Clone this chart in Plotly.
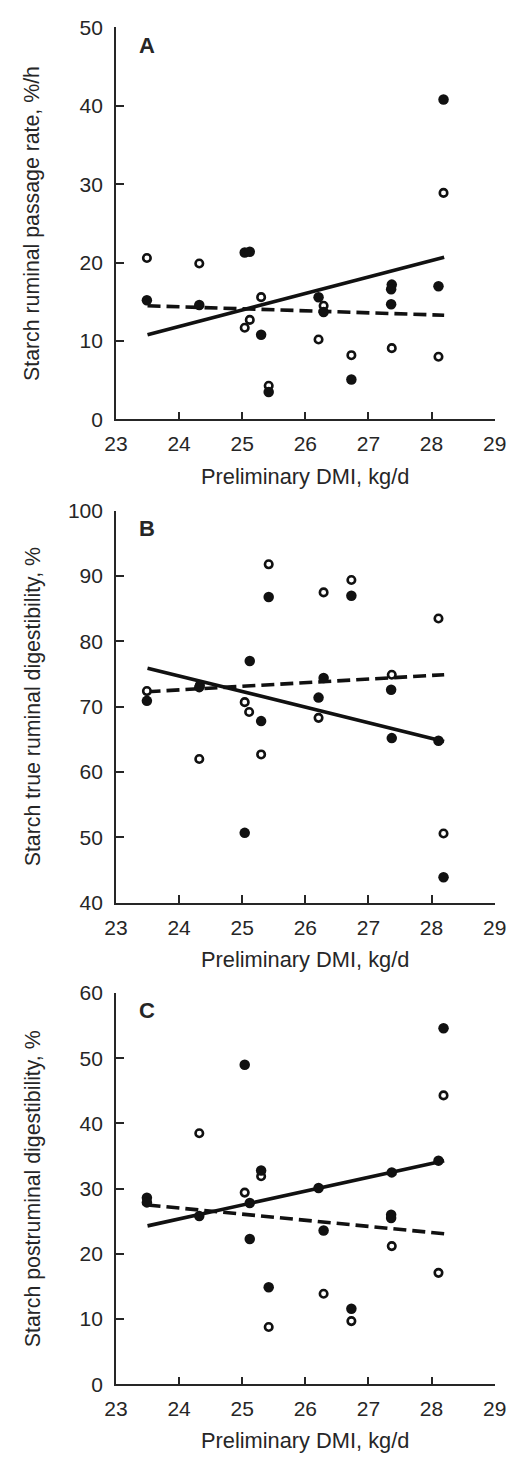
import plotly.graph_objects as go

# Preliminary dry matter intake (kg/d) and responses, per treatment
# Panel A: starch ruminal passage rate, %/h
a_open_x = [23.49, 24.32, 25.04, 25.12, 25.30, 25.42, 26.21, 26.29, 26.73, 27.37, 28.11, 28.19]
a_open_y = [20.6, 19.9, 11.7, 12.7, 15.6, 4.3, 10.2, 14.5, 8.2, 9.1, 8.0, 28.9]
a_fill_x = [23.49, 24.32, 25.04, 25.12, 25.30, 25.42, 26.21, 26.29, 26.73, 27.37, 27.36, 27.36, 28.11, 28.19]
a_fill_y = [15.2, 14.6, 21.3, 21.4, 10.8, 3.5, 15.6, 13.7, 5.1, 17.2, 16.6, 14.7, 17.0, 40.8]

# Panel B: starch true ruminal digestibility, %
b_open_x = [23.49, 24.33, 24.32, 25.04, 25.11, 25.30, 25.42, 26.21, 26.29, 26.73, 27.37, 28.11, 28.19]
b_open_y = [72.4, 73.3, 62.0, 70.7, 69.2, 62.7, 91.8, 68.3, 87.5, 89.4, 74.9, 83.5, 50.6]
b_fill_x = [23.49, 24.32, 25.04, 25.12, 25.30, 25.42, 26.21, 26.29, 26.73, 27.36, 27.37, 28.11, 28.19]
b_fill_y = [70.9, 73.0, 50.7, 77.0, 67.8, 86.8, 71.4, 74.4, 87.0, 72.6, 65.2, 64.8, 43.9]

# Panel C: starch postruminal digestibility, %
c_open_x = [24.32, 25.04, 25.30, 25.42, 26.29, 26.73, 27.37, 28.11, 28.19]
c_open_y = [38.5, 29.4, 31.9, 8.8, 13.9, 9.7, 21.2, 17.1, 44.3]
c_fill_x = [23.49, 23.49, 24.32, 25.04, 25.12, 25.12, 25.30, 25.42, 26.21, 26.29, 26.73, 27.37, 27.36, 27.36, 28.11, 28.19]
c_fill_y = [28.6, 27.9, 25.8, 49.0, 27.8, 22.3, 32.8, 14.9, 30.1, 23.6, 11.6, 32.5, 26.0, 25.5, 34.3, 54.6]

# Regression lines (solid = filled symbols, dashed = open symbols)
fit_x = [23.5, 28.2]
a_fit_fill = [10.8, 20.7]
a_fit_open = [14.5, 13.3]
b_fit_fill = [75.9, 64.7]
b_fit_open = [72.3, 74.9]
c_fit_fill = [24.3, 34.3]
c_fit_open = [27.5, 23.1]

x_title = "Preliminary DMI, kg/d"
y_titles = ["Starch ruminal passage rate, %/h",
            "Starch true ruminal digestibility, %",
            "Starch postruminal digestibility, %"]
panel_letters = ["A", "B", "C"]
y_ranges = [[0, 50], [40, 100], [0, 60]]
x_ticks = [23, 24, 25, 26, 27, 28, 29]

W, H = 520, 1462
INK = "#262626"
FONT = "Liberation Sans, Arial, sans-serif"

# plot-area pixel boxes (left, right, top, bottom)
left_px, right_px = 109, 506
panel_px = [(15.7, 414.0), (506.7, 905.0), (996.7, 1394.3)]


def px_x(p):
    return p / W


def px_y(p):
    return 1 - p / H


fig = go.Figure()

panels = [
    (a_open_x, a_open_y, a_fill_x, a_fill_y, a_fit_fill, a_fit_open),
    (b_open_x, b_open_y, b_fill_x, b_fill_y, b_fit_fill, b_fit_open),
    (c_open_x, c_open_y, c_fill_x, c_fill_y, c_fit_fill, c_fit_open),
]

annotations = []
for i, (ox, oy, fx, fy, fit_f, fit_o) in enumerate(panels):
    n = "" if i == 0 else str(i + 1)
    xa, ya = "x" + n, "y" + n
    fig.add_trace(go.Scatter(x=fit_x, y=fit_f, mode="lines", xaxis=xa, yaxis=ya,
                             line=dict(color="#111", width=3.6), showlegend=False))
    fig.add_trace(go.Scatter(x=fit_x, y=fit_o, mode="lines", xaxis=xa, yaxis=ya,
                             line=dict(color="#111", width=3.6, dash="13px,6px"),
                             showlegend=False))
    fig.add_trace(go.Scatter(x=ox, y=oy, mode="markers", xaxis=xa, yaxis=ya,
                             marker=dict(symbol="circle", size=7.5, color="white",
                                         line=dict(color="#111", width=2.6)),
                             showlegend=False))
    fig.add_trace(go.Scatter(x=fx, y=fy, mode="markers", xaxis=xa, yaxis=ya,
                             marker=dict(symbol="circle", size=10.5, color="#111",
                                         line=dict(width=0)),
                             showlegend=False))

    top, bot = panel_px[i]
    axis_common = dict(showline=True, linecolor=INK, linewidth=1.6,
                       ticks="inside", ticklen=8, tickwidth=1.6, tickcolor=INK,
                       showgrid=False, zeroline=False,
                       tickfont=dict(family=FONT, size=21, color=INK))
    fig.update_layout(**{
        "xaxis" + n: dict(domain=[px_x(left_px), px_x(right_px)], range=[23, 29],
                          tickvals=x_ticks, anchor=ya, ticklabelstandoff=5,
                          **axis_common),
        "yaxis" + n: dict(domain=[px_y(bot), px_y(top)], range=y_ranges[i],
                          dtick=10, anchor=xa, ticklabelstandoff=7,
                          **axis_common),
    })

    annotations.append(dict(text=x_title, x=px_x(306.7), y=px_y(bot + 57.5),
                            xref="paper", yref="paper", showarrow=False,
                            xanchor="center", yanchor="middle",
                            font=dict(family=FONT, size=21.8, color=INK)))
    annotations.append(dict(text=y_titles[i], x=px_x(21.5), y=px_y((top + bot) / 2),
                            xref="paper", yref="paper", showarrow=False,
                            textangle=-90, xanchor="center", yanchor="middle",
                            font=dict(family=FONT, size=21.3, color=INK)))
    annotations.append(dict(text="<b>" + panel_letters[i] + "</b>",
                            x=px_x(141.5), y=px_y(top + 18),
                            xref="paper", yref="paper", showarrow=False,
                            xanchor="center", yanchor="middle",
                            font=dict(family=FONT, size=22, color=INK)))

fig.update_layout(width=W, height=H, margin=dict(l=0, r=0, t=0, b=0),
                  paper_bgcolor="white", plot_bgcolor="white",
                  annotations=annotations, showlegend=False)

fig.write_html("out.html")
